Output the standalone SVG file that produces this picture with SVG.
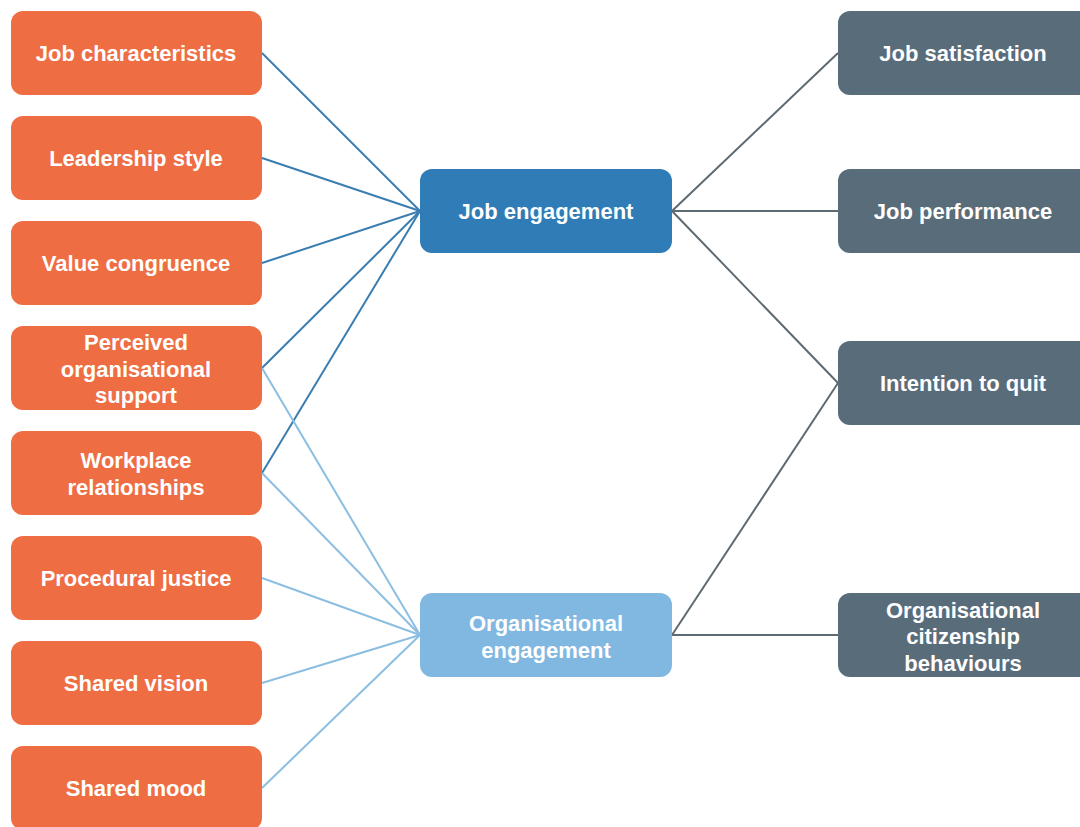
<svg xmlns="http://www.w3.org/2000/svg" width="1080" height="827" viewBox="0 0 1080 827">
<style>
.l{fill:#EE6D43}
.je{fill:#2F7CB6}
.oe{fill:#80B8E2}
.o{fill:#596C7A}
text{font-family:"Liberation Sans",Arial,sans-serif;font-weight:bold;font-size:22px;fill:#ffffff;text-anchor:middle}
.cd{stroke:#3A7DB0;stroke-width:2;fill:none}
.cl{stroke:#8CBEE2;stroke-width:2;fill:none}
.cg{stroke:#5E6A72;stroke-width:2;fill:none}
</style>
<rect width="1080" height="827" fill="#ffffff"/>
<g id="connectors">
<line class="cd" x1="262" y1="53" x2="420" y2="211"/>
<line class="cd" x1="262" y1="158" x2="420" y2="211"/>
<line class="cd" x1="262" y1="263" x2="420" y2="211"/>
<line class="cd" x1="262" y1="368" x2="420" y2="211"/>
<line class="cd" x1="262" y1="473" x2="420" y2="211"/>
<line class="cl" x1="262" y1="368" x2="420" y2="635"/>
<line class="cl" x1="262" y1="473" x2="420" y2="635"/>
<line class="cl" x1="262" y1="578" x2="420" y2="635"/>
<line class="cl" x1="262" y1="683" x2="420" y2="635"/>
<line class="cl" x1="262" y1="788" x2="420" y2="635"/>
<line class="cg" x1="672" y1="211" x2="838" y2="53"/>
<line class="cg" x1="672" y1="211" x2="838" y2="211"/>
<line class="cg" x1="672" y1="211" x2="838" y2="383"/>
<line class="cg" x1="672" y1="635" x2="838" y2="383"/>
<line class="cg" x1="672" y1="635" x2="838" y2="635"/>
</g>
<g id="job-characteristics"><rect class="l" x="11" y="11" width="251" height="84" rx="12"/><text x="136" y="61">Job characteristics</text></g>
<g id="leadership-style"><rect class="l" x="11" y="116" width="251" height="84" rx="12"/><text x="136" y="166">Leadership style</text></g>
<g id="value-congruence"><rect class="l" x="11" y="221" width="251" height="84" rx="12"/><text x="136" y="271">Value congruence</text></g>
<g id="perceived-organisational-support"><rect class="l" x="11" y="326" width="251" height="84" rx="12"/><text x="136" y="350">Perceived</text><text x="136" y="377">organisational</text><text x="136" y="403">support</text></g>
<g id="workplace-relationships"><rect class="l" x="11" y="431" width="251" height="84" rx="12"/><text x="136" y="468">Workplace</text><text x="136" y="495">relationships</text></g>
<g id="procedural-justice"><rect class="l" x="11" y="536" width="251" height="84" rx="12"/><text x="136" y="586">Procedural justice</text></g>
<g id="shared-vision"><rect class="l" x="11" y="641" width="251" height="84" rx="12"/><text x="136" y="691">Shared vision</text></g>
<g id="shared-mood"><rect class="l" x="11" y="746" width="251" height="84" rx="12"/><text x="136" y="796">Shared mood</text></g>
<g id="job-engagement"><rect class="je" x="420" y="169" width="252" height="84" rx="12"/><text x="546" y="219">Job engagement</text></g>
<g id="organisational-engagement"><rect class="oe" x="420" y="593" width="252" height="84" rx="12"/><text x="546" y="631">Organisational</text><text x="546" y="658">engagement</text></g>
<g id="job-satisfaction"><rect class="o" x="838" y="11" width="254" height="84" rx="12"/><text x="963" y="61">Job satisfaction</text></g>
<g id="job-performance"><rect class="o" x="838" y="169" width="254" height="84" rx="12"/><text x="963" y="219">Job performance</text></g>
<g id="intention-to-quit"><rect class="o" x="838" y="341" width="254" height="84" rx="12"/><text x="963" y="391">Intention to quit</text></g>
<g id="organisational-citizenship-behaviours"><rect class="o" x="838" y="593" width="254" height="84" rx="12"/><text x="963" y="618">Organisational</text><text x="963" y="644">citizenship</text><text x="963" y="671">behaviours</text></g>
</svg>
